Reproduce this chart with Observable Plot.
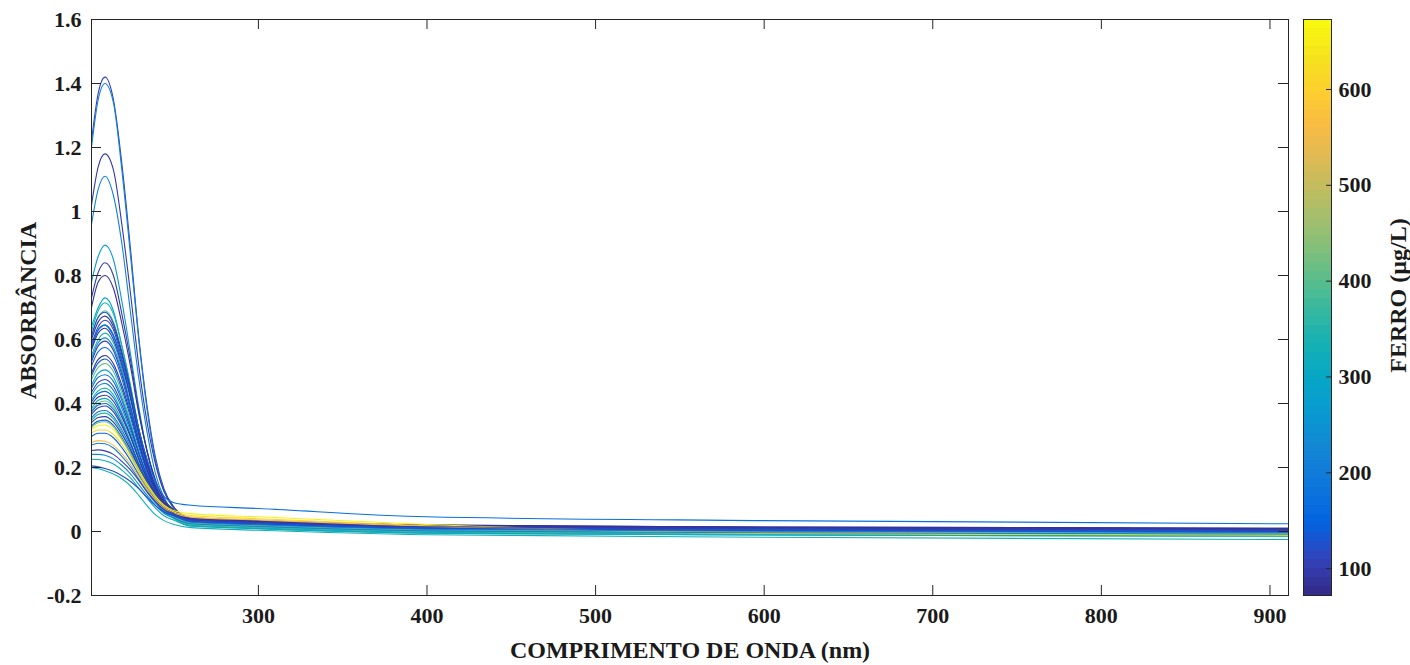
<!DOCTYPE html>
<html><head><meta charset="utf-8">
<script src="https://cdn.jsdelivr.net/npm/d3@7"></script>
<script src="https://cdn.jsdelivr.net/npm/@observablehq/plot@0.6"></script>
<style>
body{margin:0;background:#fff;}
#chart{position:relative;width:1410px;height:665px;overflow:hidden;}
#chart svg{position:absolute;left:0;top:0;}
</style></head><body><div id="chart"></div>
<script>
// ---- data ----
const wavelengths = [201, 205, 209, 214, 219, 224, 229, 234, 239, 244, 250, 260, 300, 400, 600, 911];
const ferroConc = [105, 205, 95, 215, 270, 100, 82, 290, 335, 400, 125, 88, 112, 150, 345, 175, 90, 235, 105, 160,
  85, 140, 410, 280, 185, 100, 240, 355, 150, 90, 300, 425, 170, 110, 195, 360, 95, 160, 655, 430,
  610, 150, 560, 200, 100, 230, 310, 120, 330];
const spectra = [
  [1.22,1.37,1.42,1.35,1.15,0.89,0.61,0.39,0.23,0.133,0.075,0.037,0.029,0.015,0.009,0.005],
  [1.20,1.35,1.40,1.34,1.13,0.87,0.60,0.38,0.22,0.127,0.069,0.032,0.024,0.010,0.004,0.0],
  [1.02,1.14,1.18,1.13,0.96,0.75,0.52,0.34,0.21,0.125,0.075,0.042,0.034,0.02,0.014,0.01],
  [0.96,1.07,1.11,1.05,0.90,0.69,0.48,0.31,0.18,0.106,0.059,0.027,0.019,0.005,-0.001,-0.005],
  [0.78,0.86,0.895,0.85,0.72,0.56,0.39,0.25,0.15,0.088,0.05,0.022,0.014,0.0,-0.006,-0.01],
  [0.73,0.81,0.84,0.80,0.68,0.54,0.38,0.25,0.16,0.099,0.063,0.037,0.029,0.015,0.009,0.005],
  [0.70,0.78,0.80,0.76,0.65,0.52,0.37,0.25,0.157,0.10,0.067,0.042,0.034,0.02,0.014,0.01],
  [0.64,0.70,0.73,0.69,0.58,0.46,0.32,0.21,0.127,0.074,0.042,0.017,0.009,-0.005,-0.011,-0.015],
  [0.625,0.69,0.715,0.68,0.58,0.456,0.323,0.213,0.13,0.078,0.047,0.022,0.014,0.0,-0.006,-0.01],
  [0.61,0.67,0.69,0.655,0.56,0.44,0.31,0.206,0.126,0.075,0.044,0.02,0.012,-0.002,-0.008,-0.012],
  [0.61,0.67,0.685,0.65,0.56,0.45,0.32,0.22,0.14,0.09,0.061,0.037,0.029,0.015,0.009,0.005],
  [0.60,0.655,0.673,0.64,0.553,0.44,0.32,0.22,0.142,0.093,0.064,0.04,0.032,0.018,0.012,0.008],
  [0.585,0.64,0.66,0.63,0.54,0.43,0.31,0.21,0.134,0.085,0.056,0.032,0.024,0.01,0.004,0.0],
  [0.57,0.63,0.645,0.61,0.53,0.42,0.30,0.206,0.13,0.084,0.055,0.029,0.021,0.007,0.001,-0.003],
  [0.55,0.60,0.62,0.59,0.51,0.40,0.29,0.19,0.12,0.073,0.045,0.022,0.014,0.0,-0.006,-0.01],
  [0.58,0.63,0.645,0.615,0.534,0.43,0.32,0.226,0.155,0.11,0.09,0.082,0.072,0.046,0.034,0.024],
  [0.567,0.62,0.635,0.60,0.52,0.42,0.305,0.21,0.136,0.089,0.061,0.037,0.029,0.015,0.009,0.005],
  [0.54,0.59,0.605,0.575,0.50,0.395,0.287,0.19,0.12,0.078,0.05,0.027,0.019,0.005,-0.001,-0.005],
  [0.53,0.58,0.595,0.566,0.49,0.39,0.286,0.195,0.126,0.082,0.055,0.032,0.024,0.01,0.004,0.0],
  [0.517,0.562,0.575,0.549,0.478,0.38,0.28,0.193,0.126,0.083,0.057,0.034,0.026,0.012,0.006,0.002],
  [0.495,0.538,0.55,0.524,0.457,0.37,0.274,0.192,0.128,0.087,0.063,0.04,0.032,0.018,0.012,0.008],
  [0.487,0.527,0.539,0.513,0.445,0.36,0.265,0.183,0.12,0.079,0.054,0.032,0.024,0.01,0.004,0.0],
  [0.474,0.513,0.525,0.50,0.432,0.346,0.252,0.17,0.107,0.066,0.042,0.02,0.012,-0.002,-0.008,-0.012],
  [0.458,0.495,0.505,0.482,0.418,0.338,0.249,0.171,0.111,0.07,0.046,0.024,0.016,0.002,-0.004,-0.008],
  [0.448,0.482,0.49,0.469,0.409,0.333,0.248,0.175,0.118,0.079,0.056,0.035,0.027,0.013,0.007,0.003],
  [0.435,0.466,0.475,0.453,0.396,0.324,0.243,0.173,0.118,0.081,0.059,0.038,0.03,0.016,0.01,0.006],
  [0.425,0.455,0.463,0.441,0.385,0.314,0.234,0.164,0.109,0.071,0.048,0.027,0.019,0.005,-0.001,-0.005],
  [0.412,0.44,0.448,0.427,0.372,0.303,0.225,0.157,0.102,0.065,0.043,0.022,0.014,0.0,-0.006,-0.01],
  [0.405,0.431,0.438,0.418,0.366,0.301,0.227,0.162,0.11,0.074,0.053,0.032,0.024,0.01,0.004,0.0],
  [0.396,0.42,0.426,0.407,0.358,0.297,0.227,0.165,0.115,0.081,0.06,0.04,0.032,0.018,0.012,0.008],
  [0.384,0.41,0.416,0.396,0.346,0.283,0.211,0.147,0.096,0.061,0.04,0.02,0.012,-0.002,-0.008,-0.012],
  [0.378,0.402,0.408,0.389,0.34,0.279,0.209,0.147,0.097,0.063,0.042,0.022,0.014,0.0,-0.006,-0.01],
  [0.373,0.395,0.40,0.382,0.336,0.278,0.212,0.154,0.106,0.073,0.054,0.034,0.026,0.012,0.006,0.002],
  [0.366,0.387,0.392,0.374,0.33,0.274,0.21,0.153,0.107,0.075,0.055,0.036,0.028,0.014,0.008,0.004],
  [0.355,0.374,0.378,0.36,0.318,0.265,0.204,0.148,0.103,0.071,0.052,0.032,0.024,0.01,0.004,0.0],
  [0.347,0.366,0.37,0.352,0.31,0.257,0.196,0.14,0.095,0.063,0.044,0.024,0.016,0.002,-0.004,-0.008],
  [0.34,0.356,0.359,0.342,0.304,0.256,0.2,0.148,0.106,0.076,0.057,0.038,0.03,0.016,0.01,0.006],
  [0.33,0.345,0.348,0.332,0.294,0.247,0.192,0.141,0.099,0.069,0.051,0.032,0.024,0.01,0.004,0.0],
  [0.319,0.331,0.333,0.318,0.285,0.243,0.194,0.148,0.11,0.082,0.065,0.056,0.046,0.022,-0.004,-0.012],
  [0.325,0.34,0.343,0.327,0.289,0.242,0.187,0.136,0.094,0.064,0.046,0.027,0.019,0.005,-0.001,-0.005],
  [0.307,0.317,0.317,0.303,0.272,0.233,0.187,0.142,0.104,0.077,0.061,0.05,0.04,0.018,-0.006,-0.015],
  [0.297,0.307,0.307,0.293,0.262,0.223,0.177,0.132,0.094,0.067,0.051,0.032,0.024,0.01,0.004,0.0],
  [0.278,0.284,0.282,0.269,0.243,0.211,0.172,0.131,0.097,0.071,0.056,0.045,0.036,0.016,-0.002,-0.008],
  [0.27,0.276,0.274,0.261,0.235,0.203,0.164,0.123,0.089,0.063,0.048,0.029,0.021,0.007,0.001,-0.003],
  [0.253,0.255,0.252,0.241,0.219,0.193,0.16,0.124,0.093,0.069,0.055,0.037,0.029,0.015,0.009,0.005],
  [0.241,0.241,0.238,0.227,0.207,0.181,0.147,0.113,0.081,0.057,0.042,0.024,0.016,0.002,-0.004,-0.008],
  [0.226,0.225,0.221,0.211,0.192,0.168,0.136,0.104,0.073,0.049,0.035,0.017,0.009,-0.005,-0.011,-0.015],
  [0.205,0.202,0.197,0.188,0.174,0.157,0.134,0.106,0.081,0.061,0.049,0.032,0.024,0.01,0.004,0.0],
  [0.20,0.196,0.19,0.18,0.165,0.143,0.113,0.08,0.052,0.034,0.022,0.012,0.004,-0.01,-0.018,-0.025]
];
const xTicks = [300, 400, 500, 600, 700, 800, 900];
const yTicks = [-0.2, 0, 0.2, 0.4, 0.6, 0.8, 1, 1.2, 1.4, 1.6];
const ferroTicks = [100, 200, 300, 400, 500, 600];
const xDomain = [201, 911];
const yDomain = [-0.2, 1.6];
const ferroDomain = [72, 673];
const parula = ["#352a87","#3243ba","#0363e1","#0d75dc","#1485d4","#0998d1","#06a7c6","#15b1b4",
  "#38b99e","#65be86","#92bf73","#b7bd64","#d9ba56","#f8bb44","#fcce2e","#f5e41d","#f9fb0e"];

// ---- build ----
const rows = spectra.flatMap((s, i) => s.map((a, j) => ({sample: i, wl: wavelengths[j], abs: a, ferro: ferroConc[i]})));
const parulaInterp = d3.piecewise(d3.interpolateRgb, parula);
const W = 1410, H = 665, mL = 91, mR = 122, mT = 19, mB = 70;
const plotW = W - mL - mR, plotH = H - mT - mB;
const axisColor = "#262626";
const baseStyle = {background: "transparent", fontFamily: "'Liberation Serif', 'Times New Roman', serif",
  fontWeight: "bold", fontSize: "22px", color: "#1a1a1a", overflow: "visible"};

const main = Plot.plot({
  width: W, height: H, marginLeft: mL, marginRight: mR, marginTop: mT, marginBottom: mB,
  style: baseStyle,
  x: {domain: xDomain},
  y: {domain: yDomain},
  color: {type: "linear", domain: ferroDomain, interpolate: parulaInterp},
  marks: [
    Plot.line(rows, {x: "wl", y: "abs", z: "sample", stroke: "ferro", strokeWidth: 1.1, curve: "monotone-x"}),
    Plot.frame({stroke: axisColor}),
    Plot.tickX(xTicks, {x: d => d, insetTop: plotH - 10, stroke: axisColor}),
    Plot.tickX(xTicks, {x: d => d, insetBottom: plotH - 10, stroke: axisColor}),
    Plot.tickY(yTicks, {y: d => d, insetRight: plotW - 10, stroke: axisColor}),
    Plot.tickY(yTicks, {y: d => d, insetLeft: plotW - 10, stroke: axisColor}),
    Plot.axisX({ticks: xTicks, tickSize: 0, tickPadding: 12, tickFormat: d => String(d), label: null}),
    Plot.axisY({ticks: yTicks, tickSize: 0, tickPadding: 10, tickFormat: d => String(d), label: null}),
    Plot.text(["ABSORBÂNCIA"], {text: d => d, frameAnchor: "left", textAnchor: "middle", lineAnchor: "middle",
      dx: -63, dy: 3, rotate: -90, fontSize: 24}),
    Plot.text(["COMPRIMENTO DE ONDA (nm)"], {text: d => d, frameAnchor: "bottom", textAnchor: "middle",
      lineAnchor: "middle", dy: 55, fontSize: 24})
  ]
});

const nBands = 64;
const bands = d3.range(nBands).map(i => ({
  y1: ferroDomain[0] + i * (ferroDomain[1] - ferroDomain[0]) / nBands,
  y2: ferroDomain[0] + (i + 1) * (ferroDomain[1] - ferroDomain[0]) / nBands,
  c: parulaInterp((i + 0.5) / nBands)
}));
const cbL = 1303, cbR = 1331;
const cb = Plot.plot({
  width: W, height: H, marginLeft: cbL, marginRight: W - cbR, marginTop: mT, marginBottom: mB,
  style: baseStyle,
  x: {domain: [0, 1], axis: null},
  y: {domain: ferroDomain, axis: null},
  marks: [
    Plot.rect(bands, {x1: 0, x2: 1, y1: "y1", y2: "y2", fill: "c", shapeRendering: "crispEdges"}),
    Plot.frame({stroke: axisColor}),
    Plot.tickY(ferroTicks, {y: d => d, insetLeft: (cbR - cbL) - 5, stroke: axisColor}),
    Plot.axisY({anchor: "right", ticks: ferroTicks, tickSize: 0, tickPadding: 7, tickFormat: d => String(d), label: null}),
    Plot.text(["FERRO (µg/L)"], {text: d => d, frameAnchor: "right", textAnchor: "middle", lineAnchor: "middle",
      dx: 67, dy: -12, rotate: -90, fontSize: 24})
  ]
});

const el = document.getElementById("chart");
el.appendChild(main);
el.appendChild(cb);
</script></body></html>
